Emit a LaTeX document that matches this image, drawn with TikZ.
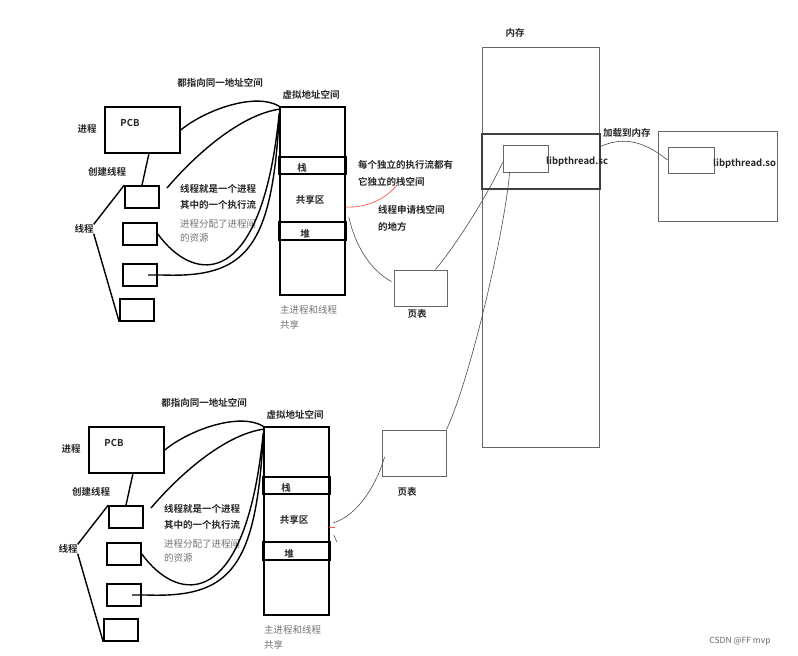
\documentclass[tikz,border=0pt]{standalone}
\usepackage{fontspec}
\setmainfont{Noto Sans CJK SC}[BoldFont={Noto Sans CJK SC Bold}]
\usepackage{tikz}
\usetikzlibrary{calc}
\tikzstyle{box_k} = [rectangle, draw=black, line width=1.6pt, inner sep=0pt]
\tikzstyle{box_b} = [rectangle, draw=black, line width=2.2pt, inner sep=0pt]
\tikzstyle{box_g} = [rectangle, draw=black!60, line width=0.9pt, inner sep=0pt]
\tikzstyle{txt_k} = [font=\bfseries\fontsize{9.5}{11}\selectfont, text=black!85, inner sep=0pt]
\tikzstyle{txt_g} = [font=\fontsize{9.5}{11}\selectfont, text=black!55, inner sep=0pt]
\tikzstyle{wire_k} = [line width=1.4pt]
\tikzstyle{wire_g} = [line width=0.6pt, draw=black!70]

\begin{document}
\begin{tikzpicture}[x=1pt,y=-1pt]
\useasboundingbox (0,0) rectangle (798,656);
% process / thread / virtual address space, drawn twice
\foreach \s/\dx/\dy in {a/0/0, b/-16/320} {
\begin{scope}[shift={(\dx,\dy)}]
  \node[box_k, minimum width=75pt, minimum height=46pt] (\s-pcb) at (142.5,130) {};
  \node[txt_k] (\s-pcbtxt) at (130,123) {PCB};
  \node[txt_k] (\s-proc) at (87,129) {进程};
  \node[txt_k] (\s-same) at (220,83) {都指向同一地址空间};
  \node[txt_k] (\s-vastxt) at (311,95) {虚拟地址空间};
  \node[box_k, minimum width=65pt, minimum height=188pt] (\s-vas) at (312.5,201) {};
  \node[box_b, minimum width=67pt, minimum height=17pt] (\s-stack) at (312.5,165.5) {};
  \node[txt_k] (\s-stacktxt) at (302,168) {栈};
  \node[txt_k] (\s-shared) at (310,200) {共享区};
  \node[box_b, minimum width=67pt, minimum height=18pt] (\s-heap) at (312.5,231) {};
  \node[txt_k] (\s-heaptxt) at (305,234) {堆};
  \node[txt_g, anchor=west] (\s-main1) at (280,310) {主进程和线程};
  \node[txt_g, anchor=west] (\s-main2) at (280,325) {共享};
  \node[txt_k] (\s-create) at (107,172) {创建线程};
  \node[txt_k] (\s-thr) at (84,229) {线程};
  \foreach \i/\x/\y in {1/142/197, 2/140/234, 3/140/275, 4/137/310}
    \node[box_k, minimum width=34pt, minimum height=22pt] (\s-t\i) at (\x,\y) {};
  \node[txt_k, anchor=west] (\s-note1) at (180,189) {线程就是一个进程};
  \node[txt_k, anchor=west] (\s-note2) at (180,205) {其中的一个执行流};
  \node[txt_g, anchor=west] (\s-note3) at (180,224) {进程分配了进程间};
  \node[txt_g, anchor=west] (\s-note4) at (180,238) {的资源};
  \coordinate (\s-c2) at (167,188);
  \coordinate (\s-c4) at (148,275);

  \draw[wire_k] (\s-pcb.285) -- (\s-t1.north);
  \draw[wire_k] (\s-thr.north east) -- (\s-t1.north west);
  \draw[wire_k] (\s-thr.south east) -- (\s-t4.south west);
  \draw[wire_k] (\s-pcb.east) .. controls (205,110) and (255,92) .. (\s-vas.north west);
  \draw[wire_k] (\s-c2) .. controls (195,155) and (240,115) .. ($(\s-vas.north west)+(0,3)$);
  \draw[wire_k] (\s-t2.east) .. controls (195,285) and (262,290) .. ($(\s-vas.north west)+(0,7)$);
  \draw[wire_k] (\s-c4) -- (162,275) .. controls (245,278) and (272,250) .. ($(\s-vas.north west)+(0,10)$);
\end{scope}
}

% memory
\node[txt_k] (memtxt) at (515,33) {内存};
\node[box_g, minimum width=117pt, minimum height=400pt] (mem) at (540.5,247) {};
\node[rectangle, draw=black!75, line width=1.1pt, inner sep=0pt, minimum width=118pt, minimum height=55pt] (band) at (541,161.5) {};
\node[box_g, minimum width=45pt, minimum height=27pt] (lib) at (525.5,158.5) {};
\node[txt_k, anchor=west] (libtxt) at (546,162) {libpthread.sc};
\node[txt_k, anchor=west] (load) at (603,133) {加载到内存};
\node[box_g, minimum width=119pt, minimum height=90pt] (disk) at (717.5,176) {};
\node[box_g, minimum width=46pt, minimum height=26pt] (so) at (691,160) {};
\node[txt_k, anchor=west] (sotxt) at (713,164) {libpthread.so};

% page tables
\node[box_g, minimum width=53pt, minimum height=36pt] (pt1) at (420.5,288) {};
\node[txt_k] (pt1txt) at (417,314) {页表};
\node[box_g, minimum width=64pt, minimum height=46pt] (pt2) at (414,453) {};
\node[txt_k] (pt2txt) at (407,492) {页表};

% notes on the stack
\node[txt_k, anchor=west] (own1) at (358,165) {每个独立的执行流都有};
\node[txt_k, anchor=west] (own2) at (358,182) {它独立的栈空间};
\node[txt_k, anchor=west] (ask1) at (378,210) {线程申请栈空间};
\node[txt_k, anchor=west] (ask2) at (378,227) {的地方};
\coordinate (redend) at (397,185);

\draw[red!75, line width=0.6pt] ($(a-vas.east)+(0,6)$) .. controls (365,208) and (385,200) .. (redend);
\draw[wire_g] ($(a-vas.east)+(3,16)$) .. controls (355,245) and (370,270) .. ($(pt1.north west)+(-2,12)$);
\draw[wire_g] ($(pt1.north east)+(-12,0)$) .. controls (460,240) and (490,190) .. ($(lib.west)+(0,4)$);
\draw[wire_g] (pt2.north east) .. controls (470,380) and (505,230) .. ($(lib.south west)+(7,0)$);
\draw[wire_g] ($(band.north east)+(0,13)$) .. controls (620,138) and (640,138) .. (so.west);
\draw[wire_g] ($(b-vas.east)+(3,2)$) .. controls (360,515) and (378,480) .. ($(pt2.west)+(3,4)$);
\draw[red!70, line width=0.6pt] ($(b-vas.east)+(-1,6)$) -- ++(6,0);
\draw[wire_g] ($(b-vas.east)+(4,14)$) -- ++(3,7);

\node[font=\fontsize{8.5}{10}\selectfont, text=black!60] (mark) at (740,641) {CSDN @FF mvp};
\end{tikzpicture}
\end{document}
